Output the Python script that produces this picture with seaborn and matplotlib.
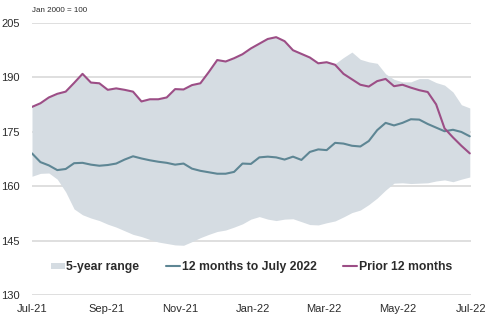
import numpy as np
import pandas as pd
import matplotlib
matplotlib.use("Agg")
import matplotlib.pyplot as plt
import matplotlib.dates as mdates
from matplotlib.patches import Patch
from matplotlib.lines import Line2D
import seaborn as sns

# Weekly observations, Jul 2021 - Jun 2022 (index, Jan 2000 = 100)
dates = pd.date_range("2021-07-01", periods=53, freq="7D")

prior_12m = [181.9, 182.9, 184.5, 185.5, 186.1, 188.5, 191.0, 188.6, 188.4, 186.6,
             187.0, 186.6, 186.1, 183.4, 184.0, 184.0, 184.5, 186.8, 186.7, 187.9,
             188.4, 191.5, 194.8, 194.4, 195.3, 196.4, 198.0, 199.3, 200.6, 201.1,
             200.0, 197.5, 196.5, 195.5, 193.9, 194.2, 193.5, 191.0, 189.5, 188.0,
             187.5, 189.0, 189.6, 187.6, 188.0, 187.2, 186.5, 186.0, 182.6, 176.0,
             173.5, 171.2, 169.1]

last_12m = [169.1, 166.7, 165.8, 164.5, 164.8, 166.4, 166.5, 166.0, 165.7, 165.9,
            166.3, 167.4, 168.3, 167.7, 167.2, 166.8, 166.5, 166.0, 166.3, 164.9,
            164.3, 163.9, 163.5, 163.5, 164.0, 166.3, 166.2, 168.0, 168.2, 168.0,
            167.4, 168.2, 167.3, 169.5, 170.2, 170.0, 172.0, 171.8, 171.2, 171.0,
            172.5, 175.5, 177.5, 176.8, 177.5, 178.5, 178.4, 177.2, 176.2, 175.2,
            175.6, 175.0, 173.8]

range_upper = [181.9, 182.9, 184.5, 185.5, 186.1, 188.5, 191.0, 188.6, 188.4, 186.6,
               187.0, 186.6, 186.1, 183.4, 184.0, 184.0, 184.5, 186.8, 186.7, 187.9,
               188.4, 191.5, 194.8, 194.4, 195.3, 196.4, 198.0, 199.3, 200.6, 201.1,
               200.0, 197.5, 196.5, 195.5, 193.9, 194.2, 193.8, 195.5, 197.0, 195.0,
               194.3, 193.9, 191.0, 189.5, 188.8, 188.8, 189.7, 189.7, 188.6, 187.9,
               186.0, 182.5, 181.6]

range_lower = [162.8, 163.6, 163.7, 162.0, 158.5, 153.8, 152.2, 151.3, 150.6, 149.6,
               148.8, 147.8, 146.8, 146.2, 145.4, 144.7, 144.3, 143.9, 143.8, 144.8,
               145.9, 146.8, 147.6, 148.0, 148.8, 149.7, 151.0, 151.7, 151.0, 150.6,
               151.0, 151.1, 150.3, 149.5, 149.4, 150.0, 150.5, 151.6, 152.8, 153.5,
               155.0, 156.8, 159.0, 160.9, 161.0, 160.8, 160.9, 161.0, 161.5, 161.8,
               161.3, 162.0, 162.6]

series_names = ["12 months to July 2022", "Prior 12 months"]
range_name = "5-year range"
y_ticks = [130, 145, 160, 175, 190, 205]
unit_note = "Jan 2000 = 100"

COL_RANGE = "#d5dce2"
COL_TEAL = "#5e8694"
COL_PURPLE = "#9c4e86"
TXT = "#2b2b2b"

sns.set_style("white")
plt.rcParams["font.family"] = ["Liberation Sans", "DejaVu Sans"]

df = pd.DataFrame({
    "date": np.concatenate([dates, dates]),
    "value": last_12m + prior_12m,
    "series": [series_names[0]] * len(dates) + [series_names[1]] * len(dates),
})

fig = plt.figure(figsize=(5.0, 3.24), dpi=100)
ax = fig.add_axes([0.064, 0.0883, 0.878, 0.8407])

ax.fill_between(dates, range_lower, range_upper, color=COL_RANGE, linewidth=0, zorder=1)
sns.lineplot(data=df, x="date", y="value", hue="series",
             palette={series_names[0]: COL_TEAL, series_names[1]: COL_PURPLE},
             linewidth=1.5, ax=ax, legend=False, zorder=3)

ax.set_ylim(130, 205)
ax.set_yticks(y_ticks)
ax.set_xlim(pd.Timestamp("2021-07-01"), pd.Timestamp("2022-07-01"))
ax.xaxis.set_major_locator(mdates.MonthLocator(bymonth=[1, 3, 5, 7, 9, 11]))
ax.xaxis.set_major_formatter(mdates.DateFormatter("%b-%y"))
ax.set_xlabel("")
ax.set_ylabel("")

for yv in y_ticks:
    ax.axhline(yv, color="#d9d9d9", linewidth=1.2, zorder=0)

for s in ["top", "right", "left", "bottom"]:
    ax.spines[s].set_visible(False)

ax.tick_params(axis="y", length=0, pad=9, labelsize=8, labelcolor=TXT)
ax.tick_params(axis="x", length=0, pad=6, labelsize=8, labelcolor=TXT)

fig.text(0.064, 0.968, unit_note, fontsize=5.8, color=TXT, ha="left", va="center")

handles = [
    Patch(facecolor=COL_RANGE, edgecolor="none"),
    Line2D([0], [0], color=COL_TEAL, linewidth=1.5),
    Line2D([0], [0], color=COL_PURPLE, linewidth=1.5),
]
labels = [range_name] + series_names
leg = ax.legend(handles, labels, ncol=3, loc="center", bbox_to_anchor=(0.5, 0.103),
                frameon=False, handlelength=1.1, handleheight=0.5, handletextpad=0.15,
                columnspacing=2.2, prop={"weight": "bold", "size": 8.8})
for t in leg.get_texts():
    t.set_color(TXT)

fig.savefig("out.png", dpi=100)
